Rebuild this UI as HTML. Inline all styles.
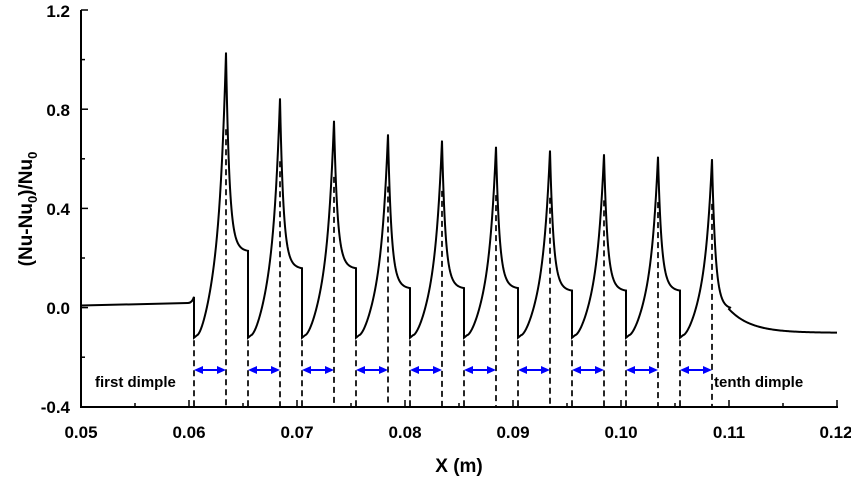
<!DOCTYPE html><html><head><style>body{margin:0;background:#fff}svg{display:block;font-family:"Liberation Sans",Arial,sans-serif;font-weight:bold}</style></head><body>
<svg id="s" width="851" height="481" xmlns="http://www.w3.org/2000/svg">
<g stroke="#000" stroke-width="2" fill="none">
<line x1="81" y1="10" x2="81" y2="408"/><line x1="80" y1="407" x2="838" y2="407"/>
</g>
<g id="t" stroke="#000" stroke-width="1.5"></g>
<g font-size="17" text-anchor="end">
<text x="70" y="17">1.2</text><text x="70" y="116">0.8</text><text x="70" y="215">0.4</text><text x="70" y="314">0.0</text><text x="70" y="413">-0.4</text>
</g>
<g font-size="17" text-anchor="middle">
<text x="81" y="438">0.05</text><text x="189" y="438">0.06</text><text x="297" y="438">0.07</text><text x="405" y="438">0.08</text><text x="513" y="438">0.09</text><text x="621" y="438">0.10</text><text x="729" y="438">0.11</text><text x="836" y="438">0.12</text>
</g>
<text x="459" y="472" font-size="19" text-anchor="middle">X (m)</text>
<text transform="translate(32,209) rotate(-90)" font-size="19" text-anchor="middle">(Nu-Nu<tspan font-size="13" dy="5">0</tspan><tspan dy="-5">)/Nu</tspan><tspan font-size="13" dy="5">0</tspan></text>
<text x="95" y="387" font-size="15">first dimple</text>
<text x="714" y="387" font-size="15">tenth dimple</text>
<g id="d" stroke="#000" stroke-width="1.7" stroke-dasharray="6,4"></g>
<g id="a"></g>
<path id="c" fill="none" stroke="#000" stroke-width="2"/>
</svg>
<script>
const Y=v=>308-v*248;
const peaks=[1.03,0.845,0.755,0.70,0.675,0.65,0.635,0.62,0.61,0.60];
const ends=[0.23,0.16,0.16,0.08,0.08,0.08,0.07,0.07,0.07,0.07];
let p="M81 "+Y(0.01)+" L188 "+Y(0.02)+" Q192 "+Y(0.02)+" 194 "+Y(0.045);
let dash="",tk="",ar="";
for(let k=0;k<10;k++){
 const s=194+54*k,pk=s+32,mn=-0.12,P=peaks[k],E=ends[k];
 p+=" L"+s+" "+Y(mn)+" L"+(s+3)+" "+Y(-0.11);
 for(let i=1;i<=29;i++){const t=i/29;p+=" L"+(s+3+i)+" "+Y(-0.11+(P+0.11)*(0.55*Math.pow(t,1.6)+0.45*Math.pow(t,6)));}
 if(k<9){
  for(let d=0.5;d<=22;d+=0.5){p+=" L"+(pk+d)+" "+Y(E+(P-E-0.1)*Math.exp(-d/3.2)+0.1*(1-d/22)*Math.exp(-d/10))}
 }else{
  for(let d=0.5;d<=18;d+=0.5){p+=" L"+(pk+d)+" "+Y(0.0+(P-0.1)*Math.exp(-d/3.2)+0.1*(1-d/18)*Math.exp(-d/10))}
  for(let x=729;x<=837;x+=1){p+=" L"+x+" "+Y(-0.1+0.1*Math.exp(-(x-728)/22))}
 }
 dash+=`<line x1="${s}" y1="${Y(-0.13)}" x2="${s}" y2="407"/><line x1="${pk}" y1="${Y(P*0.7)}" x2="${pk}" y2="407"/>`;
 ar+=`<line x1="${s+6}" y1="370" x2="${pk-6}" y2="370" stroke="#00f" stroke-width="2"/><polygon points="${s},370 ${s+9},366 ${s+9},374" fill="#00f"/><polygon points="${pk},370 ${pk-9},366 ${pk-9},374" fill="#00f"/>`;
}
for(let i=0;i<=14;i++){const x=81+54*i;tk+=`<line x1="${x}" y1="407" x2="${x}" y2="${i%2?403:400}"/>`}
for(let i=0;i<=8;i++){const y=10+49.6*i;tk+=`<line x1="81" y1="${y}" x2="${i%2?85:88}" y2="${y}"/>`}
document.getElementById("c").setAttribute("d",p);
document.getElementById("d").innerHTML=dash;
document.getElementById("a").innerHTML=ar;
document.getElementById("t").innerHTML=tk;
</script>
</body></html>
